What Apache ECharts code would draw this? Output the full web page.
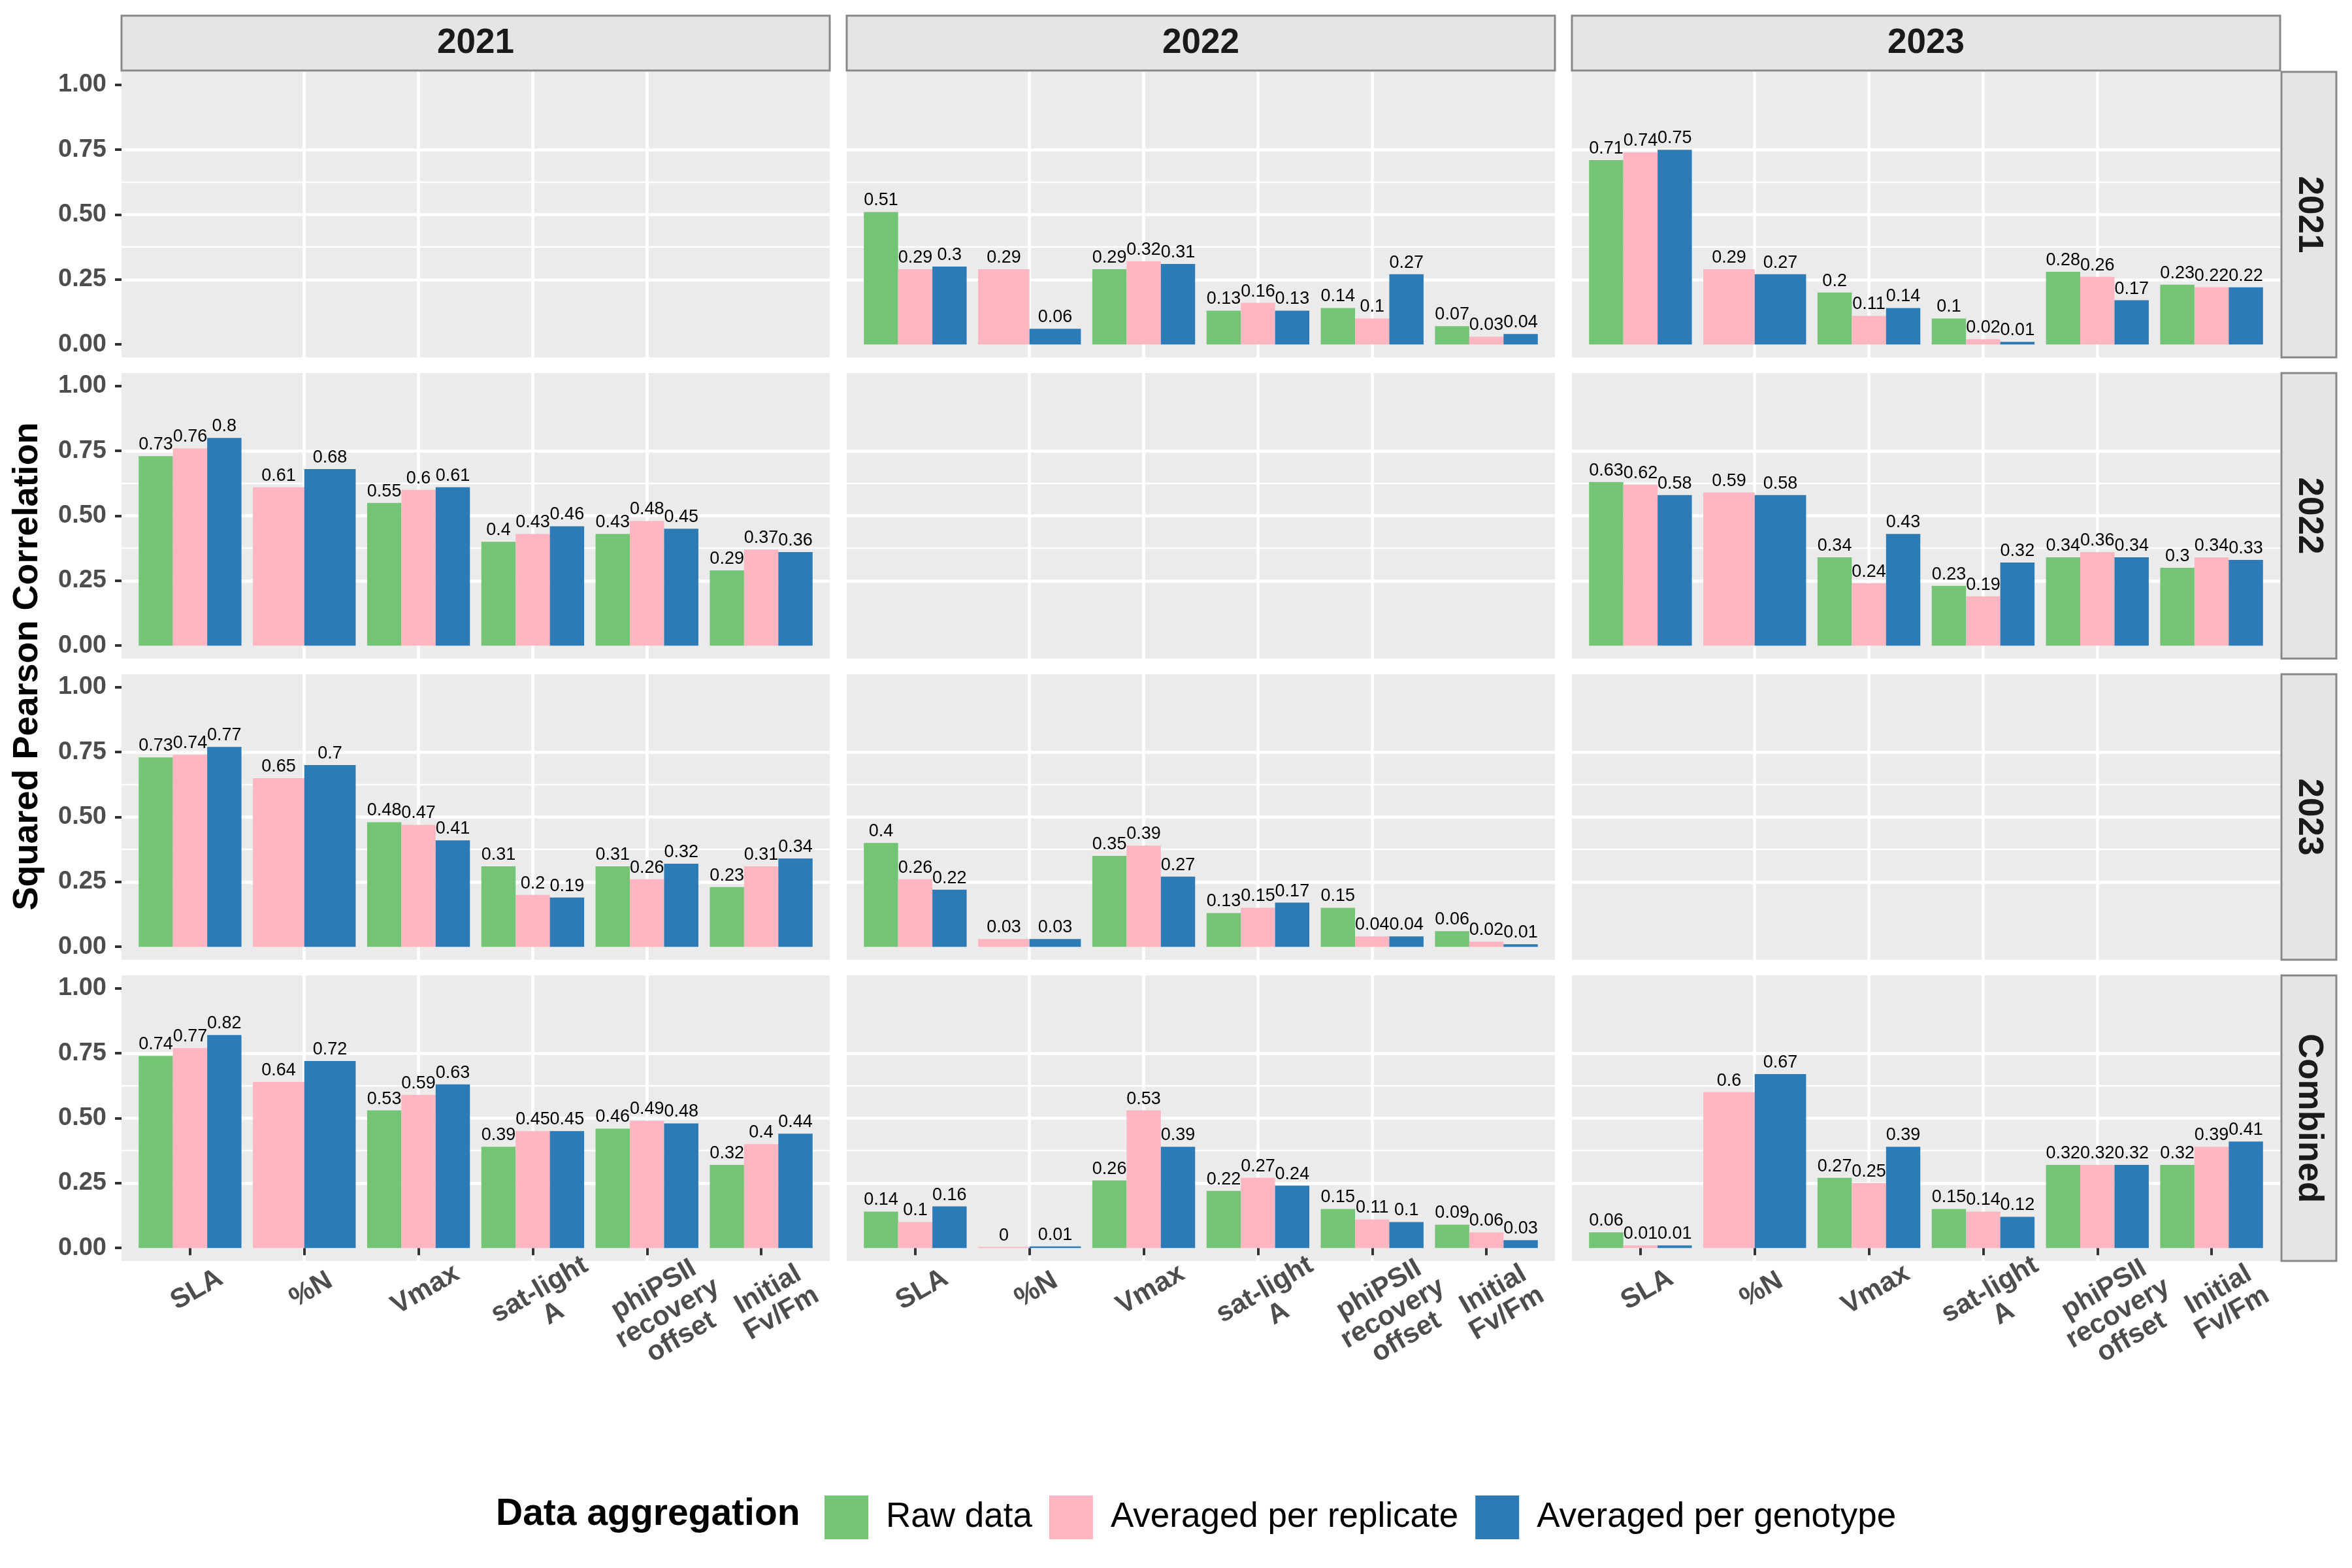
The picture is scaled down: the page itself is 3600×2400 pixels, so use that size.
<!DOCTYPE html>
<html>
<head>
<meta charset="utf-8">
<title>Squared Pearson Correlation</title>
<script src="https://cdn.jsdelivr.net/npm/echarts@6.0.0/dist/echarts.min.js"></script>
<style>
  html, body { margin: 0; padding: 0; background: #fff; }
  #chart { width: 3600px; height: 2400px; }
</style>
</head>
<body>
<div id="chart"></div>
<script>
"use strict";

// categories / facets
const traits = ["SLA", "%N", "Vmax", "sat-light\nA", "phiPSII\nrecovery\noffset", "Initial\nFv/Fm"];
const colYears = ["2021", "2022", "2023"];
const rowYears = ["2021", "2022", "2023", "Combined"];
const aggregations = ["Raw data", "Averaged per replicate", "Averaged per genotype"];
const aggColors = ["#74C476", "#FFB6C1", "#2C7BB6"];
const yTicks = [0, 0.25, 0.5, 0.75, 1];
const yMinor = [0.125, 0.375, 0.625, 0.875];

// row 2021
const raw_2021_2022 = [0.51, null, 0.29, 0.13, 0.14, 0.07];
const rep_2021_2022 = [0.29, 0.29, 0.32, 0.16, 0.10, 0.03];
const gen_2021_2022 = [0.30, 0.06, 0.31, 0.13, 0.27, 0.04];
const raw_2021_2023 = [0.71, null, 0.20, 0.10, 0.28, 0.23];
const rep_2021_2023 = [0.74, 0.29, 0.11, 0.02, 0.26, 0.22];
const gen_2021_2023 = [0.75, 0.27, 0.14, 0.01, 0.17, 0.22];
// row 2022
const raw_2022_2021 = [0.73, null, 0.55, 0.40, 0.43, 0.29];
const rep_2022_2021 = [0.76, 0.61, 0.60, 0.43, 0.48, 0.37];
const gen_2022_2021 = [0.80, 0.68, 0.61, 0.46, 0.45, 0.36];
const raw_2022_2023 = [0.63, null, 0.34, 0.23, 0.34, 0.30];
const rep_2022_2023 = [0.62, 0.59, 0.24, 0.19, 0.36, 0.34];
const gen_2022_2023 = [0.58, 0.58, 0.43, 0.32, 0.34, 0.33];
// row 2023
const raw_2023_2021 = [0.73, null, 0.48, 0.31, 0.31, 0.23];
const rep_2023_2021 = [0.74, 0.65, 0.47, 0.20, 0.26, 0.31];
const gen_2023_2021 = [0.77, 0.70, 0.41, 0.19, 0.32, 0.34];
const raw_2023_2022 = [0.40, null, 0.35, 0.13, 0.15, 0.06];
const rep_2023_2022 = [0.26, 0.03, 0.39, 0.15, 0.04, 0.02];
const gen_2023_2022 = [0.22, 0.03, 0.27, 0.17, 0.04, 0.01];
// row Combined
const raw_comb_2021 = [0.74, null, 0.53, 0.39, 0.46, 0.32];
const rep_comb_2021 = [0.77, 0.64, 0.59, 0.45, 0.49, 0.40];
const gen_comb_2021 = [0.82, 0.72, 0.63, 0.45, 0.48, 0.44];
const raw_comb_2022 = [0.14, null, 0.26, 0.22, 0.15, 0.09];
const rep_comb_2022 = [0.10, 0.004, 0.53, 0.27, 0.11, 0.06];
const gen_comb_2022 = [0.16, 0.006, 0.39, 0.24, 0.10, 0.03];
const raw_comb_2023 = [0.06, null, 0.27, 0.15, 0.32, 0.32];
const rep_comb_2023 = [0.01, 0.60, 0.25, 0.14, 0.32, 0.39];
const gen_comb_2023 = [0.01, 0.67, 0.39, 0.12, 0.32, 0.41];

// [rowIndex, colIndex, [raw, replicate, genotype]]
const panels = [
  [0, 1, [raw_2021_2022, rep_2021_2022, gen_2021_2022]],
  [0, 2, [raw_2021_2023, rep_2021_2023, gen_2021_2023]],
  [1, 0, [raw_2022_2021, rep_2022_2021, gen_2022_2021]],
  [1, 2, [raw_2022_2023, rep_2022_2023, gen_2022_2023]],
  [2, 0, [raw_2023_2021, rep_2023_2021, gen_2023_2021]],
  [2, 1, [raw_2023_2022, rep_2023_2022, gen_2023_2022]],
  [3, 0, [raw_comb_2021, rep_comb_2021, gen_comb_2021]],
  [3, 1, [raw_comb_2022, rep_comb_2022, gen_comb_2022]],
  [3, 2, [raw_comb_2023, rep_comb_2023, gen_comb_2023]],
];

// layout (px)
const colLeft = [186, 1296, 2406];
const panelW = 1084;
const rowTop = [110, 571, 1032, 1493];
const panelH = 437;
const SANS = "Liberation Sans, Arial, Helvetica, sans-serif";

const chart = echarts.init(document.getElementById("chart"), null, { renderer: "canvas" });

// label like R's round(x, 2)
const fmt = (v) => String(Math.round(v * 100) / 100);

const makeRender = (color) => (params, api) => {
  const x = api.value(0);
  const v = api.value(1);
  const slot = api.value(2);
  const n = api.value(3);
  const base = api.coord([x, 0]);
  const top = api.coord([x, v]);
  const band = api.size([0.9, 0])[0];
  const w = band / n;
  const left = base[0] - band / 2 + slot * w;
  return {
    type: "group",
    children: [
      {
        type: "rect",
        shape: { x: left, y: top[1], width: w, height: base[1] - top[1] },
        style: { fill: color },
      },
      {
        type: "text",
        x: left + w / 2,
        y: top[1] - 4,
        style: {
          text: fmt(v),
          fontFamily: SANS,
          fontSize: 27,
          fill: "#000",
          align: "center",
          verticalAlign: "bottom",
        },
      },
    ],
  };
};

const grid = [];
const xAxis = [];
const yAxis = [];
rowYears.forEach((ry, r) => {
  colYears.forEach((cy, c) => {
    const g = r * 3 + c;
    grid.push({
      left: colLeft[c], top: rowTop[r], width: panelW, height: panelH,
      show: true, backgroundColor: "#EBEBEB", borderWidth: 0,
    });
    xAxis.push({
      gridIndex: g, type: "value", min: 0.4, max: 6.6,
      axisLine: { show: false },
      axisTick: {
        show: r === 3, customValues: [1, 2, 3, 4, 5, 6], length: 11,
        lineStyle: { color: "#333", width: 4 },
      },
      axisLabel: {
        show: r === 3, customValues: [1, 2, 3, 4, 5, 6],
        formatter: (v) => traits[Math.round(v) - 1],
        rotate: 30, align: "center", verticalAlign: "top", margin: 26,
        fontFamily: SANS, fontWeight: "bold", fontSize: 42, lineHeight: 42,
        color: "#4D4D4D",
      },
      splitLine: {
        show: true, showMinLine: false, showMaxLine: false,
        lineStyle: { color: "#fff", width: 4.6 },
      },
    });
    yAxis.push({
      gridIndex: g, type: "value", min: -0.05, max: 1.05, position: "left",
      axisLine: { show: false },
      axisTick: {
        show: c === 0, customValues: yTicks, length: 10,
        lineStyle: { color: "#333", width: 4 },
      },
      axisLabel: {
        show: c === 0, customValues: yTicks, formatter: (v) => v.toFixed(2), margin: 23,
        fontFamily: SANS, fontWeight: "bold", fontSize: 38, color: "#4D4D4D",
      },
      splitLine: {
        show: true, showMinLine: false, showMaxLine: false,
        lineStyle: { color: "#fff", width: 4.6 },
      },
    });
    // minor grid lines
    yAxis.push({
      gridIndex: g, type: "value", min: -0.05, max: 1.05, position: "left",
      axisLine: { show: false },
      axisTick: { show: false, customValues: yMinor },
      axisLabel: { show: false, customValues: yMinor },
      splitLine: {
        show: true, showMinLine: false, showMaxLine: false,
        lineStyle: { color: "#fff", width: 2.3 },
      },
    });
  });
});

const series = [];
for (const [r, c, groups] of panels) {
  const g = r * 3 + c;
  groups.forEach((vals, k) => {
    const data = [];
    vals.forEach((v, i) => {
      if (v === null) return;
      const present = [0, 1, 2].filter((j) => groups[j][i] !== null);
      data.push([i + 1, v, present.indexOf(k), present.length]);
    });
    series.push({
      type: "custom",
      name: aggregations[k],
      xAxisIndex: g,
      yAxisIndex: g * 2,
      itemStyle: { color: aggColors[k] },
      renderItem: makeRender(aggColors[k]),
      encode: { x: 0, y: 1 },
      data,
    });
  });
}

const graphic = [];
colYears.forEach((cy, c) => {
  graphic.push({
    type: "rect",
    shape: { x: colLeft[c], y: 24, width: panelW, height: 84 },
    style: { fill: "#E5E5E5", stroke: "#888", lineWidth: 3 },
  });
  graphic.push({
    type: "text",
    x: colLeft[c] + panelW / 2, y: 66,
    style: {
      text: cy, fontFamily: SANS, fontWeight: "bold", fontSize: 53,
      fill: "#1A1A1A", align: "center", verticalAlign: "middle",
    },
  });
});
rowYears.forEach((ry, r) => {
  graphic.push({
    type: "rect",
    shape: { x: 3492, y: rowTop[r], width: 84, height: panelH },
    style: { fill: "#E5E5E5", stroke: "#888", lineWidth: 3 },
  });
  graphic.push({
    type: "text",
    x: 3534, y: rowTop[r] + panelH / 2,
    rotation: -Math.PI / 2,
    style: {
      text: ry, fontFamily: SANS, fontWeight: "bold", fontSize: 53,
      fill: "#1A1A1A", align: "center", verticalAlign: "middle",
    },
  });
});
graphic.push({
  type: "text",
  x: 42, y: 1020,
  rotation: Math.PI / 2,
  style: {
    text: "Squared Pearson Correlation", fontFamily: SANS, fontWeight: "bold",
    fontSize: 54, fill: "#000", align: "center", verticalAlign: "middle",
  },
});
graphic.push({
  type: "text",
  x: 759, y: 2318,
  style: {
    text: "Data aggregation", fontFamily: SANS, fontWeight: "bold",
    fontSize: 57, fill: "#000", align: "left", verticalAlign: "middle",
  },
});

chart.setOption({
  animation: false,
  backgroundColor: "#fff",
  color: aggColors,
  legend: {
    left: 1257, top: 2284,
    orient: "horizontal",
    icon: "rect",
    itemWidth: 67, itemHeight: 67, itemGap: 26,
    selectedMode: false,
    data: aggregations,
    textStyle: { fontFamily: SANS, fontSize: 53, color: "#000", padding: [0, 0, 0, 22] },
  },
  grid,
  xAxis,
  yAxis,
  series,
  graphic,
});
</script>
</body>
</html>
